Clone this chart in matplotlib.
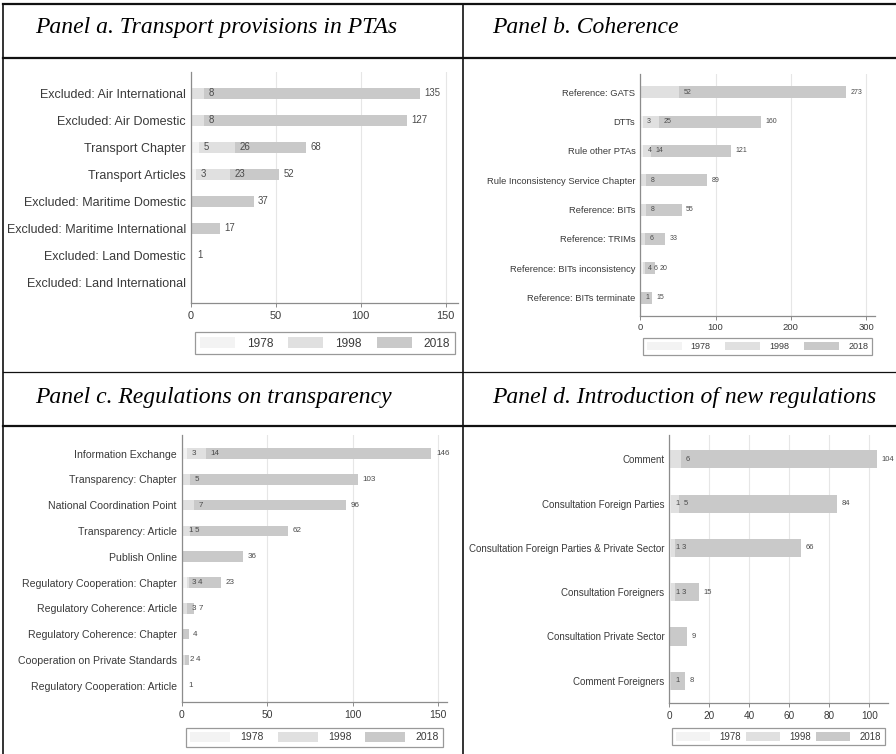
import matplotlib
matplotlib.use('Agg')
import matplotlib.pyplot as plt
from matplotlib.lines import Line2D
from matplotlib.patches import Patch

plt.rcParams['font.family'] = ['Liberation Sans', 'DejaVu Sans']

W, H = 896, 754
years = ['1978', '1998', '2018']
colors = ['#f3f3f3', '#e0e0e0', '#c9c9c9']

# Panel a
a_title = 'Panel a. Transport provisions in PTAs'
a_cats = ['Excluded: Air International', 'Excluded: Air Domestic', 'Transport Chapter',
          'Transport Articles', 'Excluded: Maritime Domestic', 'Excluded: Maritime International',
          'Excluded: Land Domestic', 'Excluded: Land International']
a_1978 = [0, 0, 5, 3, 0, 0, 0, 0]
a_1998 = [8, 8, 26, 23, 0, 0, 0, 0]
a_2018 = [135, 127, 68, 52, 37, 17, 1, 0]
a_ticks = [0, 50, 100, 150]

# Panel b
b_title = 'Panel b. Coherence'
b_cats = ['Reference: GATS', 'DTTs', 'Rule other PTAs', 'Rule Inconsistency Service Chapter',
          'Reference: BITs', 'Reference: TRIMs', 'Reference: BITs inconsistency',
          'Reference: BITs terminate']
b_1978 = [0, 3, 4, 0, 0, 0, 4, 0]
b_1998 = [52, 25, 14, 8, 8, 6, 6, 1]
b_2018 = [273, 160, 121, 89, 55, 33, 20, 15]
b_ticks = [0, 100, 200, 300]

# Panel c
c_title = 'Panel c. Regulations on transparency'
c_cats = ['Information Exchange', 'Transparency: Chapter', 'National Coordination Point',
          'Transparency: Article', 'Publish Online', 'Regulatory Cooperation: Chapter',
          'Regulatory Coherence: Article', 'Regulatory Coherence: Chapter',
          'Cooperation on Private Standards', 'Regulatory Cooperation: Article']
c_1978 = [3, 0, 0, 1, 0, 3, 0, 0, 0, 0]
c_1998 = [14, 5, 7, 5, 0, 4, 3, 0, 2, 0]
c_2018 = [146, 103, 96, 62, 36, 23, 7, 4, 4, 1]
c_ticks = [0, 50, 100, 150]

# Panel d
d_title = 'Panel d. Introduction of new regulations'
d_cats = ['Comment', 'Consultation Foreign Parties', 'Consultation Foreign Parties & Private Sector',
          'Consultation Foreigners', 'Consultation Private Sector', 'Comment Foreigners']
d_1978 = [0, 1, 1, 1, 0, 0]
d_1998 = [6, 5, 3, 3, 0, 1]
d_2018 = [104, 84, 66, 15, 9, 8]
d_ticks = [0, 20, 40, 60, 80, 100]

fig = plt.figure(figsize=(W / 100, H / 100), dpi=100)


def px_rect(l, r, t, b):
    return [l / W, 1 - b / H, (r - l) / W, (b - t) / H]


def panel(rect, title, tpos, cats, v78, v98, v18, xmax, ylims, ticks, fs, leg, sw):
    fig.text(tpos[0] / W, 1 - tpos[1] / H, title, family='Liberation Serif',
             style='italic', fontsize=17, va='baseline', ha='left')
    ax = fig.add_axes(px_rect(*rect))
    y = list(range(len(cats)))
    for vals, c in zip([v18, v98, v78], colors[::-1]):
        ax.barh(y, vals, height=0.41, color=c, zorder=2)
    ax.set_xlim(0, xmax)
    ax.set_ylim(*ylims)
    ax.set_xticks(ticks)
    ax.set_yticks(y)
    ax.set_yticklabels(cats)
    ax.tick_params(axis='y', length=0, pad=3.5, labelsize=fs[0], labelcolor='#3a3a3a')
    ax.tick_params(axis='x', length=3, width=0.7, color='#8c8c8c', pad=2.5,
                   labelsize=fs[1], labelcolor='#3a3a3a')
    ax.xaxis.grid(True, color='#e6e6e6', lw=0.8)
    ax.set_axisbelow(True)
    for s in ['top', 'right']:
        ax.spines[s].set_visible(False)
    for s in ['left', 'bottom']:
        ax.spines[s].set_color('#8c8c8c')
        ax.spines[s].set_linewidth(0.9)

    # value labels, nudged right when they would overlap
    fpx = fs[3] / 72 * 100
    for i in y:
        prev_end = -1e9
        for v in (v78[i], v98[i], v18[i]):
            if v <= 0:
                continue
            xd, yd = ax.transData.transform((v, i))
            xs = max(xd + 4.5, prev_end + 2)
            txt = str(v)
            prev_end = xs + len(txt) * 0.556 * fpx
            xv = ax.transData.inverted().transform((xs, yd))[0]
            ax.text(xv, i, txt, fontsize=fs[3], color='#4a4a4a', va='center', ha='left',
                    zorder=3)

    handles = [Patch(facecolor=c, edgecolor='none') for c in colors]
    x0, x1, yt, yb = leg
    lfs_px = fs[2] / 72 * 100
    lg = ax.legend(handles, years, loc='upper left',
                   bbox_to_anchor=(x0 / W, 1 - yb / H, (x1 - x0) / W, (yb - yt) / H),
                   bbox_transform=fig.transFigure, mode='expand', ncol=3,
                   borderaxespad=0, borderpad=0.4, fontsize=fs[2],
                   handlelength=sw[0] / lfs_px, handleheight=sw[1] / lfs_px,
                   handletextpad=1.0, columnspacing=1.0, fancybox=False,
                   edgecolor='#808080', labelcolor='#3a3a3a')
    lg.get_frame().set_linewidth(0.9)
    return ax


panel((190.7, 458.3, 72, 303), a_title, (35, 33.3), a_cats, a_1978, a_1998, a_2018,
      157.4, (7.77, -0.79), a_ticks, (9.0, 7.9, 8.6, 6.9), (195, 455, 332, 357), (35, 13))
panel((640.3, 875, 74, 315.7), b_title, (492, 33.3), b_cats, b_1978, b_1998, b_2018,
      312, (7.62, -0.62), b_ticks, (6.75, 6.8, 6.5, 5.0), (643, 872, 338, 355), (35, 10))
panel((181.7, 446.7, 435, 702.3), c_title, (35, 403.3), c_cats, c_1978, c_1998, c_2018,
      154.9, (9.64, -0.72), c_ticks, (7.6, 7.5, 7.5, 5.8), (186, 443, 727.7, 747.7), (40, 11.5))
panel((669.3, 888.3, 435, 703.3), d_title, (492, 402.7), d_cats, d_1978, d_1998, d_2018,
      109.5, (5.51, -0.55), d_ticks, (7.05, 7.2, 6.9, 5.5), (671.7, 885, 727.7, 747.7), (34, 10))

# table rules around the four panels
def hline(yp, lw):
    fig.add_artist(Line2D([3 / W, 1], [1 - yp / H, 1 - yp / H], color='#111111', lw=lw))


def vline(xp, lw):
    fig.add_artist(Line2D([xp / W, xp / W], [1 - 3.5 / H, 0], color='#111111', lw=lw))


hline(4.2, 1.6)
hline(58, 1.6)
hline(372.3, 0.9)
hline(426, 1.6)
vline(3.3, 1.2)
vline(462.5, 1.2)

fig.savefig('out.png', dpi=100)
